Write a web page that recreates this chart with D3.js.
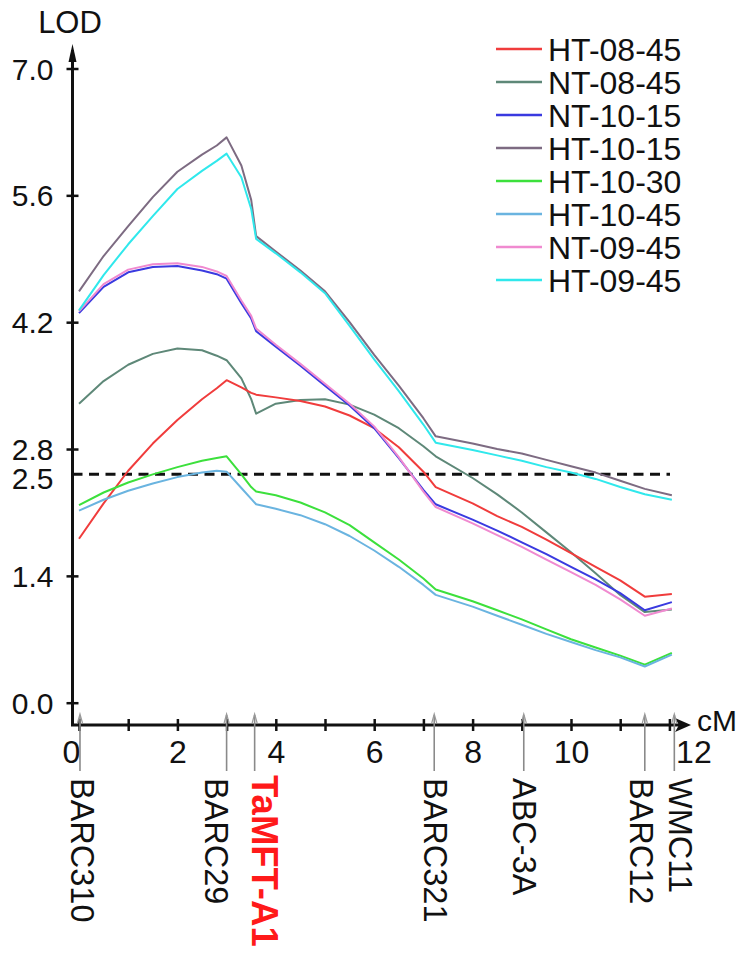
<!DOCTYPE html>
<html>
<head>
<meta charset="utf-8">
<script src="https://cdn.jsdelivr.net/npm/d3@7"></script>
<style>
  html, body { margin: 0; padding: 0; background: #fff; }
  svg { display: block; }
  text { font-family: "Liberation Sans", Arial, sans-serif; fill: #111; }
</style>
</head>
<body>
<svg id="chart" width="750" height="961"></svg>
<script>
// ---------------- data ----------------
const cM = [0, 0.5, 1.0, 1.5, 2.0, 2.5, 2.8, 3.0, 3.3, 3.5, 3.6, 4.0, 4.5, 5.0, 5.5, 6.0, 6.5, 7.0, 7.25, 8.0, 8.5, 9.0, 9.5, 10.0, 10.5, 11.0, 11.5, 12.05];

const HT_08_45 = [1.81, 2.20, 2.56, 2.86, 3.12, 3.35, 3.47, 3.56, 3.48, 3.42, 3.40, 3.37, 3.33, 3.27, 3.17, 3.03, 2.82, 2.55, 2.38, 2.20, 2.06, 1.94, 1.80, 1.65, 1.50, 1.35, 1.17, 1.20];
const NT_08_45 = [3.30, 3.55, 3.73, 3.85, 3.91, 3.89, 3.83, 3.78, 3.58, 3.35, 3.19, 3.30, 3.34, 3.35, 3.29, 3.18, 3.03, 2.83, 2.72, 2.48, 2.30, 2.10, 1.88, 1.66, 1.43, 1.19, 1.00, 1.03];
const NT_10_15 = [4.30, 4.59, 4.75, 4.81, 4.82, 4.77, 4.73, 4.68, 4.41, 4.24, 4.10, 3.93, 3.72, 3.50, 3.28, 3.03, 2.70, 2.35, 2.19, 2.02, 1.90, 1.77, 1.64, 1.50, 1.36, 1.21, 1.02, 1.11];
const HT_10_15 = [4.54, 4.93, 5.26, 5.58, 5.86, 6.05, 6.15, 6.24, 5.93, 5.55, 5.15, 4.98, 4.77, 4.54, 4.20, 3.84, 3.50, 3.14, 2.94, 2.86, 2.80, 2.75, 2.68, 2.61, 2.54, 2.45, 2.36, 2.29];
const HT_10_30 = [2.18, 2.32, 2.43, 2.52, 2.60, 2.67, 2.70, 2.72, 2.52, 2.38, 2.33, 2.29, 2.21, 2.10, 1.96, 1.77, 1.58, 1.37, 1.25, 1.12, 1.02, 0.92, 0.81, 0.70, 0.61, 0.52, 0.42, 0.55];
const HT_10_45 = [2.12, 2.24, 2.34, 2.42, 2.49, 2.54, 2.56, 2.55, 2.37, 2.25, 2.19, 2.14, 2.07, 1.97, 1.84, 1.68, 1.50, 1.30, 1.19, 1.06, 0.96, 0.86, 0.76, 0.67, 0.58, 0.50, 0.40, 0.53];
const NT_09_45 = [4.32, 4.62, 4.78, 4.84, 4.85, 4.81, 4.76, 4.71, 4.44, 4.27, 4.13, 3.95, 3.74, 3.52, 3.30, 3.05, 2.71, 2.33, 2.16, 1.98, 1.85, 1.72, 1.58, 1.44, 1.30, 1.14, 0.96, 1.04];
const HT_09_45 = [4.33, 4.72, 5.06, 5.37, 5.67, 5.87, 5.98, 6.06, 5.80, 5.45, 5.12, 4.96, 4.75, 4.52, 4.16, 3.79, 3.44, 3.07, 2.87, 2.79, 2.73, 2.67, 2.60, 2.54, 2.47, 2.38, 2.30, 2.24];

const seriesNames = ["HT-08-45", "NT-08-45", "NT-10-15", "HT-10-15", "HT-10-30", "HT-10-45", "NT-09-45", "HT-09-45"];
const seriesValues = [HT_08_45, NT_08_45, NT_10_15, HT_10_15, HT_10_30, HT_10_45, NT_09_45, HT_09_45];
const seriesColors = ["#f03c3c", "#5e8878", "#3a3ae0", "#7d6b82", "#3ce03c", "#6ab4e0", "#f08ad0", "#30e8ec"];

const yTickValues = [0.0, 1.4, 2.8, 4.2, 5.6, 7.0];
const xTickValues = [0, 1, 2, 3, 4, 5, 6, 7, 8, 9, 10, 11, 12];
const threshold = 2.5;

const markerNames = ["BARC310", "BARC29", "TaMFT-A1", "BARC321", "ABC-3A", "BARC12", "WMC11"];
const markerPos = [0.02, 3.0, 3.57, 7.22, 9.04, 11.5, 12.1];
const highlightMarker = "TaMFT-A1";

// ---------------- layout ----------------
const axisX = 72.5, axisY = 725;
const labelShift = [2, -10, 10, 1, 1, -3, 6];

const svg = d3.select("#chart");
svg.append("rect").attr("width", 750).attr("height", 961).attr("fill", "#fff");

const x = d3.scaleLinear().domain([0, 12]).range([79, 669.4]);
const y = d3.scaleLinear().domain([0, 7]).range([702.7, 68.5]);

// threshold dashed line
svg.append("line")
  .attr("x1", axisX).attr("x2", 670)
  .attr("y1", y(threshold) - 2).attr("y2", y(threshold) - 2)
  .attr("stroke", "#111").attr("stroke-width", 3)
  .attr("stroke-dasharray", "10,6.5");

// curves
const line = d3.line().x((d, i) => x(cM[i])).y(d => y(d)).curve(d3.curveLinear);
const order = [1, 0, 4, 5, 2, 6, 3, 7];
order.forEach(k => {
  svg.append("path")
    .attr("d", line(seriesValues[k]))
    .attr("fill", "none")
    .attr("stroke", seriesColors[k])
    .attr("stroke-width", 2)
    .attr("stroke-linejoin", "round");
});

// y axis
const yAxis = d3.axisLeft(y).tickValues(yTickValues).tickFormat(d3.format(".1f")).tickSize(6);
const gy = svg.append("g").attr("transform", `translate(${axisX},0)`).call(yAxis);
gy.select(".domain").remove();
gy.selectAll(".tick line").attr("x1", -6).attr("x2", 6).attr("stroke", "#111").attr("stroke-width", 2.5);
gy.selectAll(".tick text").attr("x", -19).attr("dy", "0.35em")
  .style("font-size", "30px").style("font-family", "'Liberation Sans', Arial, sans-serif").attr("fill", "#111");
svg.append("text").attr("x", axisX - 19).attr("y", y(threshold) + 2).attr("dy", "0.35em")
  .attr("text-anchor", "end").style("font-size", "30px").text(d3.format(".1f")(threshold));

// y axis line + arrow
svg.append("line").attr("x1", axisX).attr("x2", axisX).attr("y1", axisY + 1).attr("y2", 50)
  .attr("stroke", "#111").attr("stroke-width", 3);
svg.append("path").attr("d", `M${axisX},44 L${axisX - 4},62 L${axisX + 4},62 Z`).attr("fill", "#111");
svg.append("text").attr("x", 70).attr("y", 33).attr("text-anchor", "middle")
  .style("font-size", "31px").text("LOD");

// x axis
const xAxis = d3.axisBottom(x).tickValues(xTickValues)
  .tickFormat(d => d % 2 === 0 ? String(d) : "").tickSize(6);
const gx = svg.append("g").attr("transform", `translate(0,${axisY})`).call(xAxis);
gx.select(".domain").remove();
gx.selectAll(".tick line").attr("y1", -6).attr("y2", 6).attr("stroke", "#111").attr("stroke-width", 2.5);
gx.selectAll(".tick text").attr("y", 15).attr("dy", "0.71em")
  .style("font-size", "32px").style("font-family", "'Liberation Sans', Arial, sans-serif").attr("fill", "#111")
  .attr("dx", d => d === 0 ? -8 : (d === 12 ? 24 : 0));

svg.append("line").attr("x1", axisX - 1.5).attr("x2", 680).attr("y1", axisY).attr("y2", axisY)
  .attr("stroke", "#111").attr("stroke-width", 3);
svg.append("path").attr("d", `M691,${axisY} L675,${axisY - 7} L679,${axisY} L675,${axisY + 7} Z`).attr("fill", "#111");
svg.append("text").attr("x", 697).attr("y", 731).style("font-size", "30px").text("cM");

// markers
markerNames.forEach((name, i) => {
  const mx = x(markerPos[i]);
  svg.append("line").attr("x1", mx).attr("x2", mx).attr("y1", 715).attr("y2", 771)
    .attr("stroke", "#8a8a8a").attr("stroke-width", 1.6);
  svg.append("path").attr("d", `M${mx - 2.5},723 L${mx},714 L${mx + 2.5},723`)
    .attr("fill", "none").attr("stroke", "#9a9a9a").attr("stroke-width", 1.2);
  const lx = mx + labelShift[i];
  const hi = name === highlightMarker;
  svg.append("text")
    .attr("transform", `translate(${lx},${hi ? 775 : 778}) rotate(90)`)
    .attr("text-anchor", "start")
    .attr("dy", "0.35em")
    .style("font-size", hi ? "36.5px" : "32.5px")
    .style("font-weight", hi ? "bold" : "normal")
    .style("fill", hi ? "#ff1a1a" : "#111")
    .text(name);
});

// legend
seriesNames.forEach((name, i) => {
  const ly = 49 + 33 * i;
  svg.append("line").attr("x1", 496).attr("x2", 542).attr("y1", ly).attr("y2", ly)
    .attr("stroke", seriesColors[i]).attr("stroke-width", 2.5);
  svg.append("text").attr("x", 548).attr("y", ly).attr("dy", "0.36em")
    .style("font-size", "32px").text(name);
});
</script>
</body>
</html>
